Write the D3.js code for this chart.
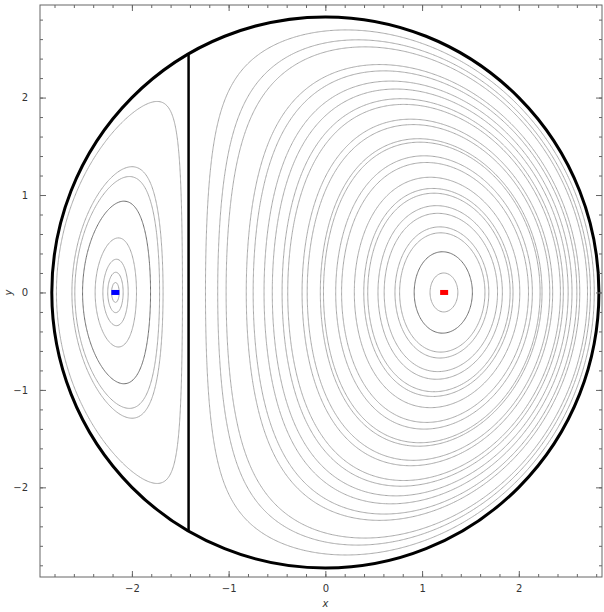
<!DOCTYPE html>
<html>
<head>
<meta charset="utf-8">
<script src="https://cdn.jsdelivr.net/npm/d3@7"></script>
<style>
  body { margin: 0; background: #fff; }
  text { font-family: "DejaVu Sans", sans-serif; }
</style>
</head>
<body>
<script>
// size of the picture
var w = 604;
var h = 612;
var margin = {top: 5, right: 2, bottom: 35, left: 40};

// plot range
var xDomain = [-2.95, 2.86];
var yDomain = [-2.92, 2.95];

// separatrices: circle of radius R round the origin, vertical line at x = lineX
var circleR = 2.828;
var lineX = -1.414;

// fixed points
var redPoint = [1.228, 0];
var bluePoint = [-2.171, 0];

// orbits round the red point: where each one crosses y = 0 on its right side
var redOrbitX = [1.37, 1.52, 1.65, 1.69, 1.78, 1.83, 1.91, 1.94, 2.01, 2.10, 2.14,
                 2.22, 2.24, 2.32, 2.35, 2.43, 2.46, 2.51, 2.55, 2.60, 2.63, 2.71, 2.74, 2.78];
// orbits round the blue point: where each one crosses y = 0 on its left side
var blueOrbitX = [-2.78, -2.62, -2.59, -2.51, -2.38, -2.30, -2.25, -2.21];

// tick values
var majorTicks = [-2, -1, 0, 1, 2];
var minorTicks = d3.range(-2.8, 2.81, 0.2);

// level function whose level sets are the orbits
function H(x, y) {
    return (x - lineX) * (x * x + y * y - circleR * circleR);
}

var xScale = d3.scaleLinear()
    .domain(xDomain)
    .range([margin.left, w - margin.right]);

var yScale = d3.scaleLinear()
    .domain(yDomain)
    .range([h - margin.bottom, margin.top]);

var svg = d3.select('body')
    .append('svg')
    .attr('width', w)
    .attr('height', h);

var rx = xScale(circleR) - xScale(0);
var ry = yScale(0) - yScale(circleR);

svg.append('clipPath')
    .attr('id', 'inside')
    .append('ellipse')
    .attr('cx', xScale(0))
    .attr('cy', yScale(0))
    .attr('rx', rx - 1)
    .attr('ry', ry - 1);

// grid for contours
var nx = 480, ny = 480;
var dx = (xDomain[1] - xDomain[0]) / nx;
var dy = (yDomain[1] - yDomain[0]) / ny;
var values = new Float64Array(nx * ny);
for (var j = 0; j < ny; j++) {
    for (var i = 0; i < nx; i++) {
        values[i + j * nx] = H(xDomain[0] + (i + 0.5) * dx, yDomain[1] - (j + 0.5) * dy);
    }
}

var levels = redOrbitX.map(x => H(x, 0)).concat(blueOrbitX.map(x => H(x, 0)));

var contours = d3.contours()
    .size([nx, ny])
    .thresholds(levels)(values);

var path = d3.geoPath(d3.geoTransform({
    point: function(gx, gy) {
        this.stream.point(xScale(xDomain[0] + gx * dx), yScale(yDomain[1] - gy * dy));
    }
}));

svg.append('g')
    .attr('clip-path', 'url(#inside)')
    .selectAll('path')
    .data(contours)
    .enter()
    .append('path')
    .attr('d', path)
    .attr('fill', 'none')
    .attr('stroke', (d, i) => (i === 1 || i === redOrbitX.length + 3) ? '#6e6e6e' : '#a8a8a8')
    .attr('stroke-width', 1);

// separatrices
svg.append('ellipse')
    .attr('cx', xScale(0))
    .attr('cy', yScale(0))
    .attr('rx', rx)
    .attr('ry', ry)
    .attr('fill', 'none')
    .attr('stroke', '#000')
    .attr('stroke-width', 3);

var lineY = Math.sqrt(circleR * circleR - lineX * lineX);
svg.append('line')
    .attr('x1', xScale(lineX))
    .attr('x2', xScale(lineX))
    .attr('y1', yScale(lineY))
    .attr('y2', yScale(-lineY))
    .attr('stroke', '#000')
    .attr('stroke-width', 2.5);

// fixed points
svg.selectAll('rect.pt')
    .data([[redPoint, '#ff0000'], [bluePoint, '#0000ff']])
    .enter()
    .append('rect')
    .attr('class', 'pt')
    .attr('x', d => xScale(d[0][0]) - 4)
    .attr('y', d => yScale(d[0][1]) - 2.5)
    .attr('width', 8)
    .attr('height', 5)
    .attr('fill', d => d[1]);

// frame and ticks
function styleAxis(g) {
    g.select('.domain').remove();
    g.selectAll('line').attr('stroke', '#666');
    g.selectAll('text').attr('fill', '#333').attr('font-size', 10);
}

var fmt = d3.format('d');

svg.append('g')
    .attr('transform', 'translate(0,' + (h - margin.bottom) + ')')
    .call(d3.axisBottom(xScale).tickValues(minorTicks).tickSize(-3).tickFormat(''))
    .call(styleAxis);
svg.append('g')
    .attr('transform', 'translate(0,' + (h - margin.bottom) + ')')
    .call(d3.axisBottom(xScale).tickValues(majorTicks).tickSize(-6).tickPadding(8).tickFormat(fmt))
    .call(styleAxis);
svg.append('g')
    .attr('transform', 'translate(0,' + margin.top + ')')
    .call(d3.axisTop(xScale).tickValues(minorTicks).tickSize(-3).tickFormat(''))
    .call(styleAxis);
svg.append('g')
    .attr('transform', 'translate(0,' + margin.top + ')')
    .call(d3.axisTop(xScale).tickValues(majorTicks).tickSize(-6).tickFormat(''))
    .call(styleAxis);

svg.append('g')
    .attr('transform', 'translate(' + margin.left + ',0)')
    .call(d3.axisLeft(yScale).tickValues(minorTicks).tickSize(-3).tickFormat(''))
    .call(styleAxis);
svg.append('g')
    .attr('transform', 'translate(' + margin.left + ',0)')
    .call(d3.axisLeft(yScale).tickValues(majorTicks).tickSize(-6).tickPadding(12).tickFormat(fmt))
    .call(styleAxis);
svg.append('g')
    .attr('transform', 'translate(' + (w - margin.right) + ',0)')
    .call(d3.axisRight(yScale).tickValues(minorTicks).tickSize(-3).tickFormat(''))
    .call(styleAxis);
svg.append('g')
    .attr('transform', 'translate(' + (w - margin.right) + ',0)')
    .call(d3.axisRight(yScale).tickValues(majorTicks).tickSize(-6).tickFormat(''))
    .call(styleAxis);

svg.append('rect')
    .attr('x', margin.left)
    .attr('y', margin.top)
    .attr('width', w - margin.left - margin.right)
    .attr('height', h - margin.top - margin.bottom)
    .attr('fill', 'none')
    .attr('stroke', '#666')
    .attr('stroke-width', 1);

// axis labels
svg.append('text')
    .attr('x', xScale(0))
    .attr('y', h - 5)
    .attr('text-anchor', 'middle')
    .attr('font-size', 10)
    .attr('font-style', 'italic')
    .attr('fill', '#333')
    .text('x');

svg.append('text')
    .attr('transform', 'translate(12,' + yScale(0) + ') rotate(-90)')
    .attr('text-anchor', 'middle')
    .attr('font-size', 10)
    .attr('font-style', 'italic')
    .attr('fill', '#333')
    .text('y');
</script>
</body>
</html>
